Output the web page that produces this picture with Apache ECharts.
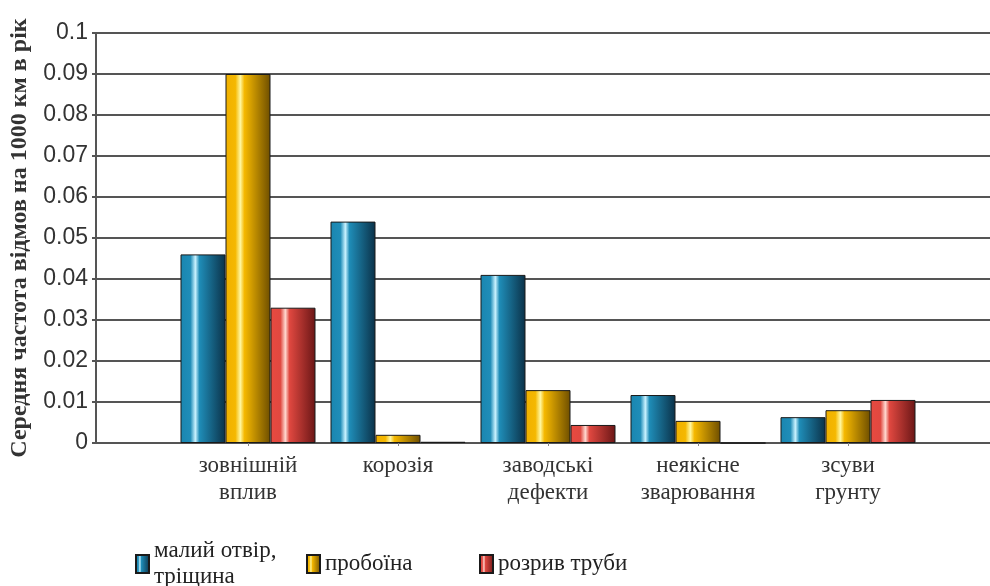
<!DOCTYPE html>
<html><head><meta charset="utf-8">
<script src="https://cdn.jsdelivr.net/npm/echarts@6/dist/echarts.min.js"></script>
<style>html,body{margin:0;padding:0;background:#fff}#c{width:990px;height:586px}</style>
</head><body><div id="c"></div>
<script>
const categories = ['зовнішній\nвплив', 'корозія', 'заводські\nдефекти', 'неякісне\nзварювання', 'зсуви\nгрунту'];
const seriesNames = ['малий отвір,\nтріщина', 'пробоїна', 'розрив труби'];
const smallHole = [0.046, 0.054, 0.041, 0.0117, 0.0063];
const puncture = [0.090, 0.002, 0.0129, 0.0054, 0.008];
const rupture = [0.033, 0.0003, 0.0044, 0, 0.0105];
const yTicks = [0, 0.01, 0.02, 0.03, 0.04, 0.05, 0.06, 0.07, 0.08, 0.09, 0.1];

function grad(c1, hi, c2, c3) {
  return new echarts.graphic.LinearGradient(0, 0, 1, 0, [
    {offset: 0, color: c1}, {offset: 0.22, color: c2}, {offset: 0.33, color: hi},
    {offset: 0.42, color: c2}, {offset: 1, color: c3}
  ]);
}
const colors = [
  grad('#1a86b0', '#c8f2ff', '#1f8db8', '#0b3148'),
  grad('#f0b000', '#fff7a0', '#f5b800', '#6e4e00'),
  grad('#e84a40', '#ffd8d0', '#e04840', '#6a1616')
];
const serif = '"Liberation Serif", "DejaVu Serif", serif';
const chart = echarts.init(document.getElementById('c'));
const mk = (name, data, i) => ({
  name, type: 'bar', data, xAxisIndex: 1, yAxisIndex: 1,
  barGap: '0%', barCategoryGap: '10%',
  itemStyle: {color: colors[i], borderColor: '#1a1a1a', borderWidth: 1}
});
const legendBase = {
  itemWidth: 13, itemHeight: 18, icon: 'rect', padding: 0, itemGap: 5,
  textStyle: {fontFamily: serif, fontSize: 23, color: '#222', lineHeight: 26}
};
chart.setOption({
  animation: false,
  grid: [
    {left: 96, right: 0, top: 33, bottom: 143, outerBoundsMode: 'none', containLabel: false},
    {left: 173, width: 750, top: 33, bottom: 143, outerBoundsMode: 'none', containLabel: false}
  ],
  legend: [
    Object.assign({}, legendBase, {left: 135, top: 538, data: [seriesNames[0]]}),
    Object.assign({}, legendBase, {left: 306, top: 551, data: [seriesNames[1]]}),
    Object.assign({}, legendBase, {left: 479, top: 551, data: [seriesNames[2]]})
  ],
  xAxis: [
    {type: 'category', gridIndex: 0, data: [''], axisLine: {show: false}, axisTick: {show: false}, axisLabel: {show: false}},
    {type: 'category', gridIndex: 1, data: categories,
      axisLine: {show: false}, axisTick: {show: true, alignWithLabel: true, length: 3, lineStyle: {color: '#888'}},
      axisLabel: {interval: 0, hideOverlap: false, fontFamily: serif, fontSize: 23, color: '#333', lineHeight: 27, margin: 9}}
  ],
  yAxis: [
    {type: 'value', gridIndex: 0, min: 0, max: 0.1, interval: 0.01,
      name: 'Середня частота відмов на 1000 км в рік', nameLocation: 'middle', nameGap: 64,
      nameTextStyle: {fontFamily: serif, fontSize: 24, fontWeight: 'bold', color: '#333'},
      axisLine: {show: true, lineStyle: {color: '#555', width: 2}},
      axisTick: {show: true, length: 4, lineStyle: {color: '#555', width: 2}},
      axisLabel: {fontFamily: '"Liberation Sans", Arial, sans-serif', fontSize: 23, color: '#333', margin: 8,
        formatter: v => yTicks.includes(+v.toFixed(2)) ? String(+v.toFixed(2)) : ''},
      splitLine: {show: true, lineStyle: {color: '#555', width: 2}}},
    {type: 'value', gridIndex: 1, min: 0, max: 0.1, interval: 0.01, show: false, splitLine: {show: false}}
  ],
  series: [mk(seriesNames[0], smallHole, 0), mk(seriesNames[1], puncture, 1), mk(seriesNames[2], rupture, 2)]
});
</script></body></html>
